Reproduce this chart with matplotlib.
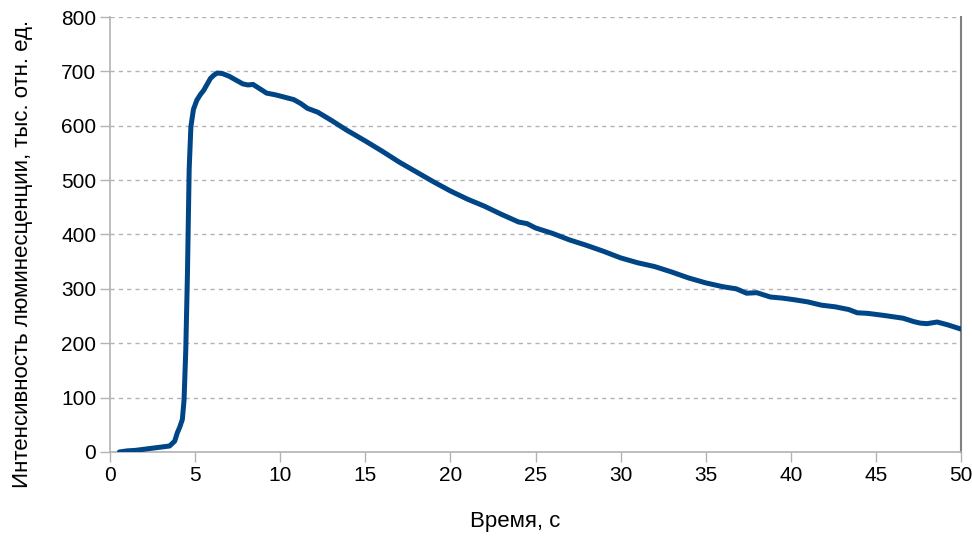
import matplotlib
matplotlib.use('Agg')
import matplotlib.pyplot as plt
import matplotlib.ticker as ticker

# Time, s
time_s = [0.55, 1.0, 1.5, 2.0, 2.5, 3.0, 3.5, 3.8, 3.95, 4.1, 4.25, 4.35, 4.45, 4.55, 4.65, 4.75,
          4.9, 5.1, 5.3, 5.5, 5.7, 5.9, 6.1, 6.3, 6.6, 7.0, 7.4, 7.8, 8.1, 8.4, 8.8, 9.2, 9.7,
          10.2, 10.8, 11.2, 11.6, 12.2, 13.0, 13.9, 15.0, 16.0, 17.0, 18.0, 19.0, 20.0, 21.0,
          22.0, 23.0, 24.0, 24.5, 25.0, 26.0, 27.0, 28.0, 29.0, 30.0, 31.0, 32.0, 33.0, 34.0,
          35.0, 36.0, 36.8, 37.4, 38.0, 38.8, 39.5, 40.2, 41.0, 41.8, 42.6, 43.4, 43.9, 44.5,
          45.5, 46.6, 47.2, 47.6, 48.0, 48.6, 49.2, 50.0]
# Luminescence intensity, thousand rel. units
intensity = [0, 2, 3, 5, 7, 9, 11, 20, 35, 46, 60, 96, 187, 330, 520, 598,
             630, 647, 657, 665, 676, 687, 693, 697, 696, 691, 684, 677, 675, 676, 668, 660, 657,
             653, 648, 641, 632, 625, 610, 592, 572, 553, 533, 515, 497, 480, 465,
             452, 437, 423, 420, 412, 402, 390, 380, 369, 357, 348, 341, 331, 320,
             311, 304, 300, 292, 293, 285, 283, 280, 276, 270, 267, 262, 256, 255,
             251, 246, 240, 237, 236, 239, 234, 226]

plt.rcParams['font.family'] = ['Liberation Sans', 'DejaVu Sans']

fig = plt.figure(figsize=(9.72, 5.38), dpi=100)
ax = fig.add_axes([0.1132, 0.1599, 0.8755, 0.8085])

ax.plot(time_s, intensity, color='#004586', linewidth=3.6, solid_capstyle='round', zorder=3)

ax.set_xlim(0, 50)
ax.set_ylim(0, 800)
ax.xaxis.set_major_locator(ticker.MultipleLocator(5))
ax.yaxis.set_major_locator(ticker.MultipleLocator(100))

ax.grid(axis='y', color='#b3b3b3', linestyle=(0, (3, 3)), linewidth=1)
ax.set_axisbelow(True)

for side in ['left', 'bottom']:
    ax.spines[side].set_color('#b3b3b3')
    ax.spines[side].set_linewidth(1.2)
ax.spines['right'].set_color('#808080')
ax.spines['right'].set_linewidth(1.5)
ax.spines['top'].set_visible(False)

ax.tick_params(axis='both', direction='out', length=7, width=1, color='#b3b3b3',
               labelsize=15, labelcolor='black', pad=3)

ax.set_xlabel('Время, с', fontsize=16, labelpad=19)
ax.set_ylabel('Интенсивность люминесценции, тыс. отн. ед.', fontsize=16, labelpad=20)
# labels in the original are a bit off-centre
ax.xaxis.label.set_x(0.476)
ax.yaxis.label.set_y(0.456)

plt.savefig('out.png', dpi=100)
